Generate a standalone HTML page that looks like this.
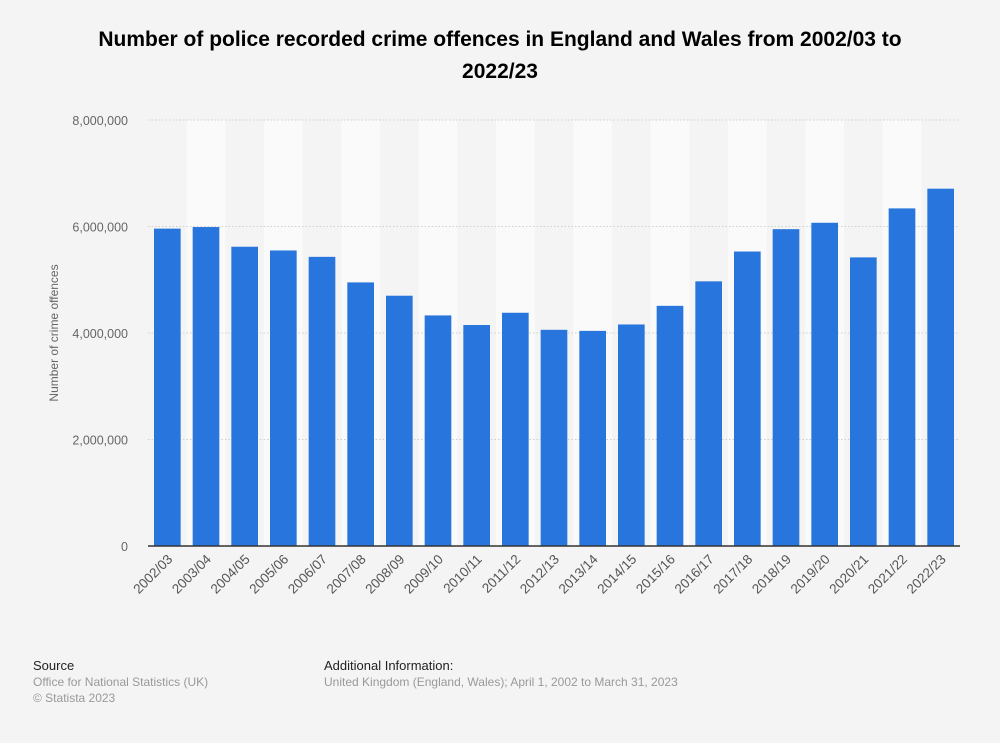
<!DOCTYPE html>
<html><head><meta charset="utf-8"><style>
body{margin:0;background:#f4f4f4;font-family:"Liberation Sans",sans-serif;}
#wrap{position:relative;width:1000px;height:743px;overflow:hidden;background:#f4f4f4}
h1{position:absolute;left:80px;width:840px;top:24px;margin:0;text-align:center;font-size:21px;line-height:32px;font-weight:bold;color:#000}
.ft{position:absolute;font-size:12px;color:#999;line-height:16px}
.ft b{font-weight:normal;color:#222;font-size:13px}
</style></head><body>
<div id="wrap">
<h1>Number of police recorded crime offences in England and Wales from 2002/03 to 2022/23</h1>
<svg id="c" width="1000" height="743" style="position:absolute;left:0;top:0"></svg>
<div class="ft" style="left:33px;top:658px"><b>Source</b><br>Office for National Statistics (UK)<br>© Statista 2023</div>
<div class="ft" style="left:324px;top:658px"><b>Additional Information:</b><br>United Kingdom (England, Wales); April 1, 2002 to March 31, 2023</div>
</div>
<script>
const categories=["2002/03","2003/04","2004/05","2005/06","2006/07","2007/08","2008/09","2009/10","2010/11","2011/12","2012/13","2013/14","2014/15","2015/16","2016/17","2017/18","2018/19","2019/20","2020/21","2021/22","2022/23"];
const values=[5960000,5990000,5620000,5550000,5430000,4950000,4700000,4330000,4150000,4380000,4060000,4040000,4160000,4510000,4970000,5530000,5950000,6070000,5420000,6340000,6710000];
const yTicks=[0,2000000,4000000,6000000,8000000];
const yTickLabels=["0","2,000,000","4,000,000","6,000,000","8,000,000"];
const NS="http://www.w3.org/2000/svg";
const svg=document.getElementById('c');
const L=148,R=960,T=120,B=546,yMax=8000000;
const band=(R-L)/categories.length;
const x=i=>L+i*band;
const y=v=>B-(v/yMax)*(B-T);
function mk(t,a){const e=document.createElementNS(NS,t);for(const k in a)e.setAttribute(k,a[k]);svg.appendChild(e);return e;}
categories.forEach((c,i)=>{if(i%2==1){const s=mk('rect',{x:x(i),y:T,width:band,height:B-T,fill:'#fafafa'});

}});
yTicks.forEach((t,i)=>{
 if(t>0){const g=mk('line',{x1:L,x2:R,y1:y(t),y2:y(t),stroke:'#cfcfcf','stroke-dasharray':'1.5,2'});
 
 }
 const tx=mk('text',{x:128,y:y(t)+5,'text-anchor':'end','font-size':12.5,fill:'#666','font-family':'Liberation Sans'});
 tx.textContent=yTickLabels[i];
 
 
});
categories.forEach((c,i)=>{
 const b=mk('rect',{x:x(i)+6,y:y(values[i]),width:band-12,height:B-y(values[i]),fill:'#2876dd'});
 
 
 const cx=x(i)+band/2+6,cy=B+14;
 const t=mk('text',{x:cx,y:cy,'text-anchor':'end','font-size':13.5,fill:'#555','font-family':'Liberation Sans',transform:`rotate(-45 ${cx} ${cy})`});
 t.textContent=c;
 
 
});
const ax=mk('line',{x1:L,x2:R,y1:B,y2:B,stroke:'#333','stroke-width':1.5});


const yt=mk('text',{x:58,y:333,'text-anchor':'middle','font-size':12,fill:'#666','font-family':'Liberation Sans',transform:'rotate(-90 58 333)'});
yt.textContent='Number of crime offences';


</script>
</body></html>
